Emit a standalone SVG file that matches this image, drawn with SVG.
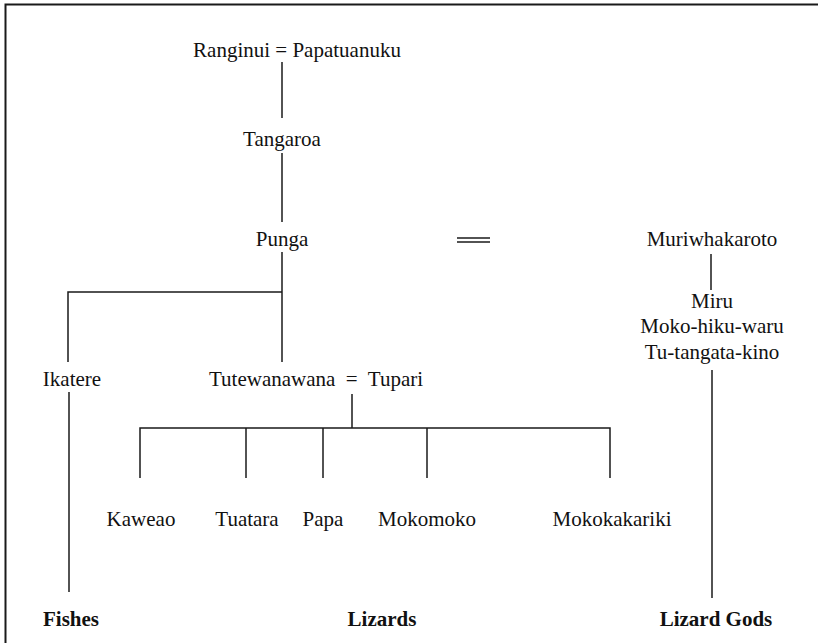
<svg xmlns="http://www.w3.org/2000/svg" width="818" height="643" viewBox="0 0 818 643">
<style>
text{font-family:"Liberation Serif","Times New Roman",serif;font-size:21px;fill:#111;text-anchor:middle}
.b{font-weight:bold}
.c line,.c path{stroke:#1a1a1a;stroke-width:1.5;fill:none}
</style>
<rect width="818" height="643" fill="#fff"/>
<path d="M5.5,643 V4.5 H818" stroke="#1a1a1a" stroke-width="2" fill="none"/>
<g class="c" id="connectors">
<line x1="282" y1="62" x2="282" y2="118"/>
<line x1="282" y1="153" x2="282" y2="222"/>
<line x1="282" y1="252" x2="282" y2="362"/>
<path d="M68,362 V292 H282"/>
<line x1="69" y1="392" x2="69" y2="592"/>
<line x1="352" y1="394" x2="352" y2="428"/>
<path d="M140,478 V428 H610 V478"/>
<line x1="246" y1="428" x2="246" y2="478"/>
<line x1="323" y1="428" x2="323" y2="478"/>
<line x1="427" y1="428" x2="427" y2="478"/>
<line x1="457" y1="238" x2="490" y2="238"/>
<line x1="457" y1="242" x2="490" y2="242"/>
<line x1="711" y1="254" x2="711" y2="290"/>
<line x1="712" y1="370" x2="712" y2="598"/>
</g>
<g id="n-ranginui"><text x="297" y="57">Ranginui = Papatuanuku</text></g>
<g id="n-tangaroa"><text x="282" y="146">Tangaroa</text></g>
<g id="n-punga"><text x="282" y="246">Punga</text></g>
<g id="n-ikatere"><text x="72" y="386">Ikatere</text></g>
<g id="n-tutewanawana"><text x="316" y="386" xml:space="preserve">Tutewanawana  =  Tupari</text></g>
<g id="n-kaweao"><text x="141" y="526">Kaweao</text></g>
<g id="n-tuatara"><text x="247" y="526">Tuatara</text></g>
<g id="n-papa"><text x="323" y="526">Papa</text></g>
<g id="n-mokomoko"><text x="427" y="526">Mokomoko</text></g>
<g id="n-mokokakariki"><text x="612" y="526">Mokokakariki</text></g>
<g id="n-muriwhakaroto"><text x="712" y="246">Muriwhakaroto</text></g>
<g id="n-miru"><text x="712" y="308">Miru</text><text x="712" y="333">Moko-hiku-waru</text><text x="712" y="359">Tu-tangata-kino</text></g>
<g id="n-fishes"><text class="b" x="71" y="626">Fishes</text></g>
<g id="n-lizards"><text class="b" x="382" y="626">Lizards</text></g>
<g id="n-lizardgods"><text class="b" x="716" y="626">Lizard Gods</text></g>
</svg>
